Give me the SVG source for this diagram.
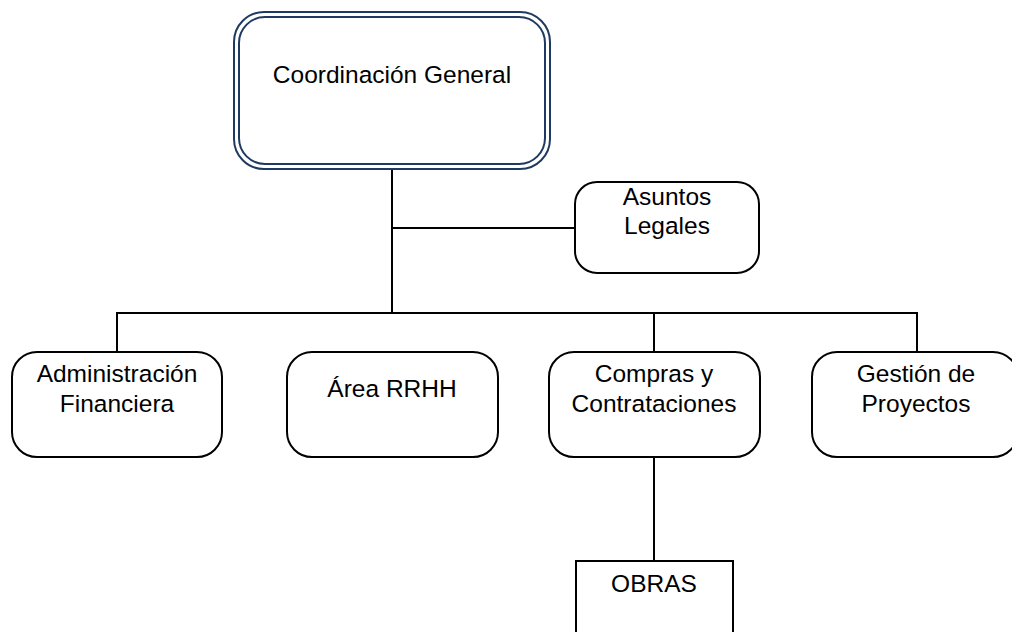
<svg xmlns="http://www.w3.org/2000/svg" width="1012" height="632" viewBox="0 0 1012 632">
<style>
.box{fill:#fff;stroke:#000;stroke-width:2}
.top{fill:#fff;stroke:#1F3A60;stroke-width:2}
.conn{stroke:#000;stroke-width:2;fill:none}
text{font-family:"Liberation Sans",Arial,sans-serif;font-size:24.5px;fill:#000;text-anchor:middle}
</style>
<rect width="1012" height="632" fill="#fff"/>
<g id="connectors">
<line class="conn" x1="392" y1="168" x2="392" y2="313"/>
<line class="conn" x1="392" y1="228" x2="576" y2="228"/>
<polyline class="conn" points="117,352 117,313 917,313 917,352"/>
<line class="conn" x1="654" y1="313" x2="654" y2="352"/>
<line class="conn" x1="654" y1="457" x2="654" y2="561"/>
</g>
<g id="coordinacion">
<rect class="top" x="234" y="12" width="316" height="157" rx="30"/>
<rect class="top" x="239" y="17" width="306" height="147" rx="26"/>
<text x="392" y="83">Coordinación General</text>
</g>
<g id="asuntos">
<rect class="box" x="575" y="182" width="184" height="91" rx="22"/>
<text x="667" y="205">Asuntos</text>
<text x="667" y="234">Legales</text>
</g>
<g id="administracion">
<rect class="box" x="12" y="352" width="210" height="105" rx="25"/>
<text x="117" y="382">Administración</text>
<text x="117" y="412">Financiera</text>
</g>
<g id="rrhh">
<rect class="box" x="287" y="352" width="211" height="105" rx="25"/>
<text x="392" y="397">Área RRHH</text>
</g>
<g id="compras">
<rect class="box" x="549" y="352" width="211" height="105" rx="25"/>
<text x="654" y="382">Compras y</text>
<text x="654" y="412">Contrataciones</text>
</g>
<g id="gestion">
<rect class="box" x="812" y="352" width="206" height="105" rx="25"/>
<text x="916" y="382">Gestión de</text>
<text x="916" y="412">Proyectos</text>
</g>
<g id="obras">
<path class="box" d="M576,640 L576,561 L733,561 L733,640"/>
<text x="654" y="592">OBRAS</text>
</g>
</svg>
